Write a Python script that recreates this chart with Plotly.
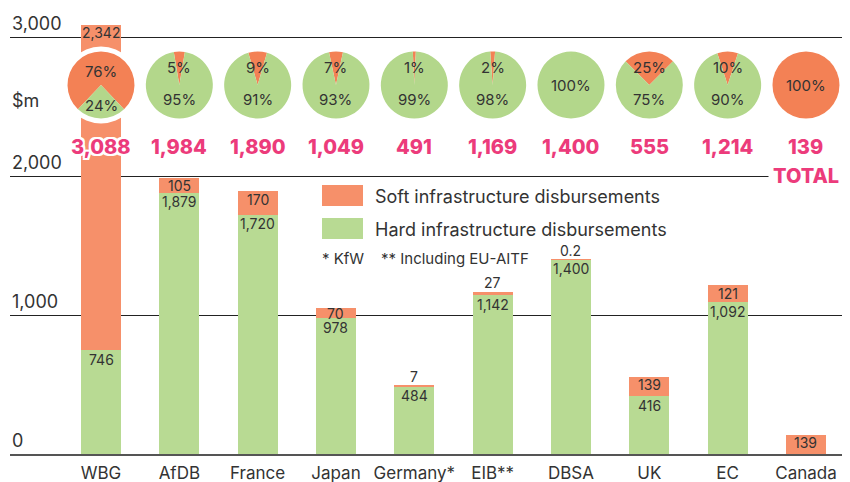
import plotly.graph_objects as go

# ---------------- data ----------------
categories = ["WBG", "AfDB", "France", "Japan", "Germany*", "EIB**", "DBSA", "UK", "EC", "Canada"]
hard = [746, 1879, 1720, 978, 484, 1142, 1400, 416, 1092, 0]
soft = [2342, 105, 170, 70, 7, 27, 0.2, 139, 121, 139]
totals = [3088, 1984, 1890, 1049, 491, 1169, 1400, 555, 1214, 139]
y_ticks = [0, 1000, 2000, 3000]
legend_labels = ["Soft infrastructure disbursements", "Hard infrastructure disbursements"]
footnote = "* KfW    ** Including EU-AITF"

# ---------------- style / geometry (pixel positions given in the 850x482 frame) ----------------
W, H = 850, 482
OFF = 8                      # page body margin
FW, FH = W - OFF, H - OFF
ML, MR, MT, MB = 10 - OFF, 0, 0, 28
PW, PH = FW - ML - MR, FH - MT - MB
PX_PER_1000 = 139.0
XMIN, XMAX = -1.1617, 9.562
YMIN, YMAX = 0, PH / PX_PER_1000 * 1000
BAR_ORANGE = "#F6906A"
BAR_GREEN = "#B8DA93"
PIE_ORANGE = "#F38155"
PIE_GREEN = "#B3D78B"
PINK = "#EC3B7B"
TXT = "#333333"
FONT = "Inter"
PIE_CY = 85     # px from top
PIE_R = 33.5    # px


def px_x(px):
    return (px - OFF - ML) / PW


def px_y(py):
    return (PH - (py - OFF - MT)) / PH


def xi_paper(i):
    return (i - XMIN) / (XMAX - XMIN)


def fmt(v):
    return f"{v:,.0f}" if v >= 1 else f"{v}"


fig = go.Figure()
xs = list(range(len(categories)))
fig.add_trace(go.Bar(x=xs, y=hard, marker=dict(color=BAR_GREEN, line=dict(width=0)),
                     width=0.511, name=legend_labels[1], hoverinfo="skip"))
fig.add_trace(go.Bar(x=xs, y=soft, marker=dict(color=BAR_ORANGE, line=dict(width=0)),
                     width=0.511, name=legend_labels[0], hoverinfo="skip"))

annotations = []
shapes = []

# bar value labels
px_per_unit = PX_PER_1000 / 1000
lbl_font = dict(family=FONT, size=14, color=TXT)
for i in xs:
    h, s = hard[i], soft[i]
    if h > 0:
        annotations.append(dict(x=i, y=h, xref="x", yref="y", text=fmt(h), showarrow=False,
                                yanchor="middle", yshift=-9, font=lbl_font))
    if s < 50:
        annotations.append(dict(x=i, y=h + s, xref="x", yref="y", text=fmt(s), showarrow=False,
                                yanchor="middle", yshift=9, font=lbl_font))
    else:
        seg = s * px_per_unit
        annotations.append(dict(x=i, y=h + s, xref="x", yref="y", text=fmt(s), showarrow=False,
                                yanchor="middle", yshift=-min(8, seg / 2), font=lbl_font))

# pies
shadow = ("2px 0 0 white, -2px 0 0 white, 0 2px 0 white, 0 -2px 0 white, "
          "2px 2px 0 white, -2px -2px 0 white, 2px -2px 0 white, -2px 2px 0 white")
for i in xs:
    t = hard[i] + soft[i]
    frac = soft[i] / t
    cxp = xi_paper(i)
    rx, ry = PIE_R / PW, PIE_R / PH
    cyp = px_y(PIE_CY)
    if frac > 0.5:
        rr = PIE_R + 5
        fig.add_trace(go.Pie(values=[1], marker=dict(colors=["white"], line=dict(width=0)),
                             textinfo="none", hoverinfo="skip", showlegend=False, sort=False,
                             domain=dict(x=[cxp - rr / PW, cxp + rr / PW], y=[cyp - rr / PH, cyp + rr / PH])))
    fig.add_trace(go.Pie(values=[soft[i], hard[i]],
                         marker=dict(colors=[PIE_ORANGE, PIE_GREEN], line=dict(width=0)),
                         textinfo="none", hoverinfo="skip", showlegend=False, sort=False,
                         direction="clockwise", rotation=-frac * 180,
                         domain=dict(x=[cxp - rx, cxp + rx], y=[cyp - ry, cyp + ry])))
    sp = round(100 * frac)
    hp = 100 - sp
    lf = dict(family=FONT, size=15, color=TXT)
    if sp == 0 or hp == 0:
        annotations.append(dict(x=i, y=px_y(PIE_CY), xref="x", yref="paper", text="100%",
                                xanchor="center", yanchor="middle", showarrow=False, font=lf))
    else:
        if frac > 0.5:
            ys, yh = PIE_CY - 13, PIE_CY + 21
        else:
            ys, yh = PIE_CY - 18, PIE_CY + 14
        annotations.append(dict(x=i, y=px_y(ys), xref="x", yref="paper", text=f"{sp}%",
                                xanchor="center", yanchor="middle", showarrow=False, font=lf))
        annotations.append(dict(x=i, y=px_y(yh), xref="x", yref="paper", text=f"{hp}%",
                                xanchor="center", yanchor="middle", showarrow=False, font=lf))
    # totals
    annotations.append(dict(x=i, y=px_y(147), xref="x", yref="paper", text=f"{totals[i]:,}",
                            xanchor="center", yanchor="middle", showarrow=False,
                            font=dict(family=FONT, size=20, color=PINK, weight=800, shadow=shadow)))

annotations.append(dict(x=xs[-1], y=2000, xref="x", yref="y", text="TOTAL", showarrow=False,
                        xanchor="center", yanchor="middle", bgcolor="white", borderpad=4,
                        font=dict(family=FONT, size=20, color=PINK, weight=800)))

# y tick labels
for v in y_ticks:
    annotations.append(dict(x=0, y=v, xref="paper", yref="y", text=f"{v:,}", xanchor="left",
                            yanchor="bottom", yshift=1, showarrow=False,
                            font=dict(family=FONT, size=18, color=TXT)))
annotations.append(dict(x=0, y=px_y(100), xref="paper", yref="paper", text="$m", xanchor="left",
                        yanchor="middle", showarrow=False, font=dict(family=FONT, size=18, color=TXT)))

# legend
for k, (col, lab) in enumerate(zip([BAR_ORANGE, BAR_GREEN], legend_labels)):
    top = 185 + k * 33
    shapes.append(dict(type="rect", xref="paper", yref="paper", x0=px_x(322), x1=px_x(363),
                       y0=px_y(top + 21), y1=px_y(top), fillcolor=col, line=dict(width=0)))
    annotations.append(dict(x=px_x(373), y=px_y(top + 11), xref="paper", yref="paper", text=lab,
                            xanchor="left", yanchor="middle", showarrow=False,
                            font=dict(family=FONT, size=18, color=TXT)))
annotations.append(dict(x=px_x(320), y=px_y(258), xref="paper", yref="paper", text=footnote,
                        xanchor="left", yanchor="middle", showarrow=False,
                        font=dict(family=FONT, size=15, color=TXT)))

fig.update_layout(
    width=FW, height=FH, margin=dict(l=ML, r=MR, t=MT, b=MB, pad=0),
    paper_bgcolor="white", plot_bgcolor="white",
    barmode="stack", showlegend=False, bargap=0,
    annotations=annotations, shapes=shapes,
    font=dict(family=FONT, color=TXT),
    xaxis=dict(range=[XMIN, XMAX], tickvals=xs, ticktext=categories, showgrid=False,
               zeroline=False, showline=True, linecolor="#555555", linewidth=2,
               tickfont=dict(family=FONT, size=17, color=TXT), ticks="", ticklabelstandoff=3),
    yaxis=dict(range=[YMIN, YMAX], tickvals=y_ticks[1:], showticklabels=False, showgrid=True,
               gridcolor="#222222", gridwidth=1.3, zeroline=False, showline=False),
)

fig.write_html("out.html")
